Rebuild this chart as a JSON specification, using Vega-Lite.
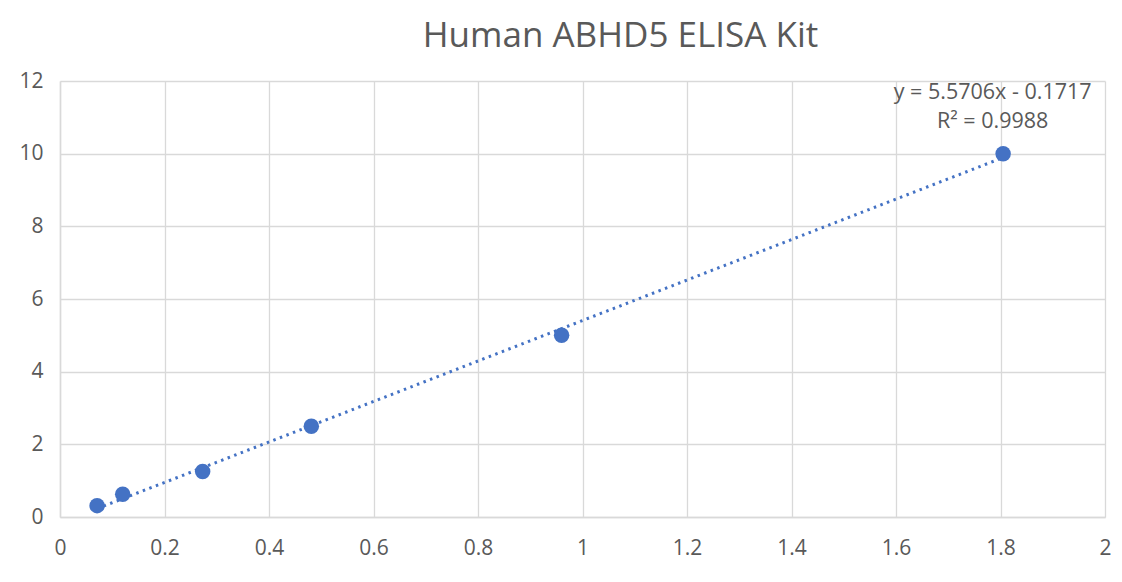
{
  "$schema": "https://vega.github.io/schema/vega-lite/v6.json",
  "width": 1045,
  "height": 436,
  "autosize": "none",
  "padding": {"left": 60, "top": 81, "right": 17, "bottom": 65},
  "background": "white",
  "title": {
    "text": "Human ABHD5 ELISA Kit",
    "font": "Open Sans",
    "fontSize": 35,
    "fontWeight": "normal",
    "color": "#595959",
    "anchor": "middle",
    "dx": 38,
    "offset": 16
  },
  "config": {
    "view": {"stroke": null},
    "axis": {
      "labelFont": "Open Sans",
      "labelFontSize": 21,
      "labelColor": "#595959",
      "gridColor": "#d9d9d9",
      "gridWidth": 1.3,
      "domainColor": "#d9d9d9",
      "domainWidth": 1.5,
      "ticks": false,
      "title": null
    }
  },
  "data": {
    "values": [
      {"od": 0.071, "conc": 0.3125},
      {"od": 0.12, "conc": 0.625},
      {"od": 0.273, "conc": 1.25},
      {"od": 0.481, "conc": 2.5},
      {"od": 0.96, "conc": 5},
      {"od": 1.805, "conc": 10}
    ]
  },
  "encoding": {
    "x": {
      "field": "od",
      "type": "quantitative",
      "scale": {"domain": [0, 2], "nice": false},
      "axis": {"values": [0, 0.2, 0.4, 0.6, 0.8, 1, 1.2, 1.4, 1.6, 1.8, 2], "format": "~g", "labelPadding": 20, "labelFlush": false}
    },
    "y": {
      "field": "conc",
      "type": "quantitative",
      "scale": {"domain": [0, 12], "nice": false},
      "axis": {"values": [0, 2, 4, 6, 8, 10, 12], "labelPadding": 17}
    }
  },
  "layer": [
    {
      "transform": [{"regression": "conc", "on": "od"}],
      "mark": {"type": "line", "color": "#4472C4", "strokeWidth": 3, "strokeDash": [2.5, 4.5]}
    },
    {
      "mark": {"type": "circle", "color": "#4472C4", "opacity": 1, "size": 240}
    },
    {
      "data": {
        "values": [
          {"od": 1.785, "conc": 11.67, "label": "y = 5.5706x - 0.1717"},
          {"od": 1.785, "conc": 10.87, "label": "R² = 0.9988"}
        ]
      },
      "mark": {"type": "text", "font": "Open Sans", "fontSize": 21.5, "color": "#595959", "align": "center", "baseline": "middle"},
      "encoding": {"text": {"field": "label"}}
    }
  ]
}
